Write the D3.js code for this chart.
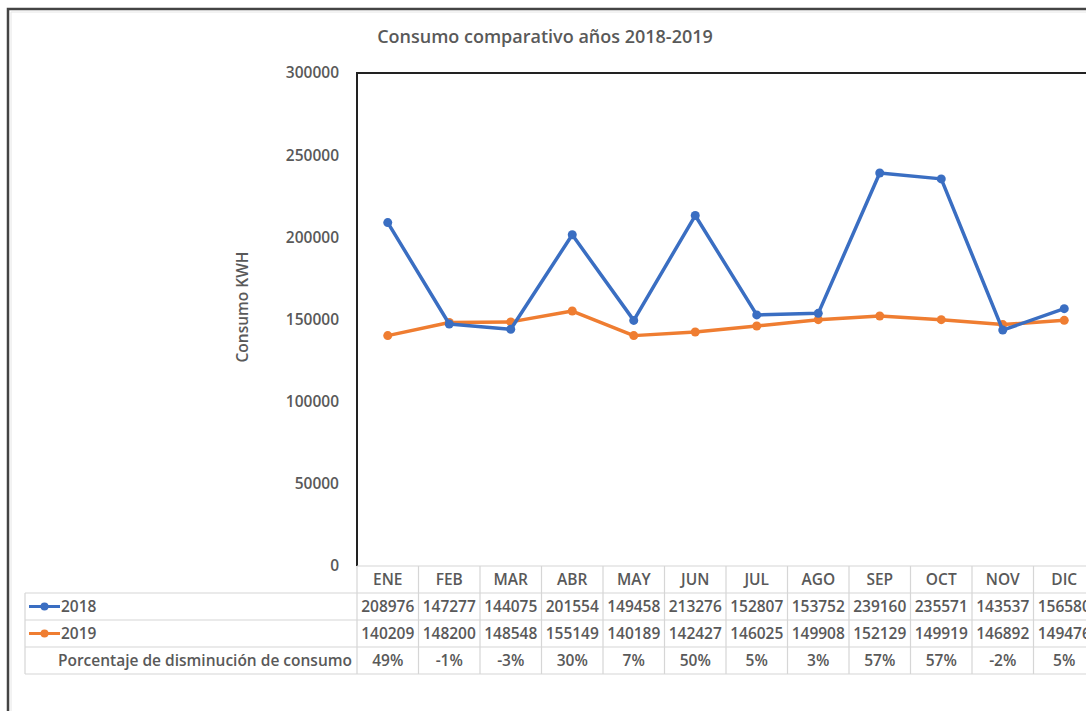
<!DOCTYPE html>
<html>
<head>
<meta charset="utf-8">
<script src="https://cdn.jsdelivr.net/npm/d3@7"></script>
<style>
  body { margin: 0; background: #fff; }
  svg { display: block; font-family: "Open Sans", sans-serif; }
  text { fill: #595959; font-weight: 600; }
</style>
</head>
<body>
<svg class="chart"></svg>
<script>
var months = ["ENE", "FEB", "MAR", "ABR", "MAY", "JUN", "JUL", "AGO", "SEP", "OCT", "NOV", "DIC"];
var values2018 = [208976, 147277, 144075, 201554, 149458, 213276, 152807, 153752, 239160, 235571, 143537, 156580];
var values2019 = [140209, 148200, 148548, 155149, 140189, 142427, 146025, 149908, 152129, 149919, 146892, 149476];
var percentLabels = ["49%", "-1%", "-3%", "30%", "7%", "50%", "5%", "3%", "57%", "57%", "-2%", "5%"];
var yTicks = [0, 50000, 100000, 150000, 200000, 250000, 300000];

var width = 1086, height = 711;
var plotLeft = 357, plotTop = 73, plotBottom = 566, colW = 61.5;
var rowH = 27, tableLeft = 25;

var colors = {"2018": "#3a6ec2", "2019": "#ef7d31"};

var svg = d3.select(".chart")
    .attr("width", width)
    .attr("height", height);

svg.append("rect").attr("width", width).attr("height", height).attr("fill", "#fff");

// outer frame
svg.append("path")
    .attr("d", "M8," + height + "V9H" + width)
    .attr("fill", "none")
    .attr("stroke", "#444")
    .attr("stroke-width", 2.5);
svg.append("path")
    .attr("d", "M11," + height + "V12H" + width)
    .attr("fill", "none")
    .attr("stroke", "#e6e6e6")
    .attr("stroke-width", 1);

var x = d3.scaleBand()
    .domain(months)
    .range([plotLeft, plotLeft + colW * months.length])
    .paddingInner(0);

var y = d3.scaleLinear()
    .domain([0, 300000])
    .range([plotBottom, plotTop]);

// title
svg.append("text")
    .attr("x", 545)
    .attr("y", 43)
    .attr("text-anchor", "middle")
    .style("font-size", "18px")
    .text("Consumo comparativo años 2018-2019");

// y axis labels
var yAxis = d3.axisLeft(y).tickValues(yTicks).tickSize(0).tickPadding(0).tickFormat(d3.format("d"));
var gy = svg.append("g")
    .attr("transform", "translate(339,0)")
    .call(yAxis);
gy.select(".domain").remove();
gy.selectAll("text")
    .attr("fill", "#595959")
    .style("font-family", "'Open Sans', sans-serif")
    .style("font-size", "15.5px")
    .style("font-weight", 600);

svg.append("text")
    .attr("transform", "translate(248,307) rotate(-90)")
    .attr("text-anchor", "middle")
    .style("font-size", "15.5px")
    .text("Consumo KWH");

// plot border (top and left dark)
svg.append("path")
    .attr("d", "M" + plotLeft + "," + plotBottom + "V" + plotTop + "H" + width)
    .attr("fill", "none")
    .attr("stroke", "#222")
    .attr("stroke-width", 2);

// table grid
var grid = svg.append("g").attr("stroke", "#d6d6d6").attr("stroke-width", 1.2);
var tableBottom = plotBottom + rowH * 4;
grid.append("line")
    .attr("x1", plotLeft).attr("x2", width)
    .attr("y1", plotBottom).attr("y2", plotBottom);
d3.range(1, 5).forEach(function(i) {
  grid.append("line")
      .attr("x1", tableLeft).attr("x2", width)
      .attr("y1", plotBottom + rowH * i).attr("y2", plotBottom + rowH * i);
});
grid.append("line")
    .attr("x1", tableLeft).attr("x2", tableLeft)
    .attr("y1", plotBottom + rowH).attr("y2", tableBottom);
months.forEach(function(m) {
  grid.append("line")
      .attr("x1", x(m)).attr("x2", x(m))
      .attr("y1", plotBottom).attr("y2", tableBottom);
});

// lines and markers
var series = [
  {name: "2018", values: values2018},
  {name: "2019", values: values2019}
];

var line = d3.line()
    .x(function(d, i) { return x(months[i]) + x.bandwidth() / 2; })
    .y(function(d) { return y(d); });

var sg = svg.selectAll(".series")
    .data(series.slice().reverse())
  .enter().append("g")
    .attr("class", "series");

sg.append("path")
    .attr("d", function(d) { return line(d.values); })
    .attr("fill", "none")
    .attr("stroke", function(d) { return colors[d.name]; })
    .attr("stroke-width", 3.5)
    .attr("stroke-linejoin", "round");

sg.selectAll("circle")
    .data(function(d) { return d.values.map(function(v) { return {v: v, name: d.name}; }); })
  .enter().append("circle")
    .attr("cx", function(d, i) { return x(months[i]) + x.bandwidth() / 2; })
    .attr("cy", function(d) { return y(d.v); })
    .attr("r", 4.5)
    .attr("fill", function(d) { return colors[d.name]; });

// table text
var rows = [
  {label: null, cells: months},
  {label: "2018", cells: values2018.map(String)},
  {label: "2019", cells: values2019.map(String)},
  {label: "Porcentaje de disminución de consumo", cells: percentLabels}
];

rows.forEach(function(r, ri) {
  var cy = plotBottom + rowH * ri + rowH / 2 + 5.5;
  r.cells.forEach(function(c, ci) {
    svg.append("text")
        .attr("x", x(months[ci]) + x.bandwidth() / 2)
        .attr("y", cy)
        .attr("text-anchor", "middle")
        .style("font-size", "15.5px")
        .text(c);
  });
  if (r.label && colors[r.label]) {
    var ly = plotBottom + rowH * ri + rowH / 2;
    svg.append("line")
        .attr("x1", 29).attr("x2", 60)
        .attr("y1", ly).attr("y2", ly)
        .attr("stroke", colors[r.label])
        .attr("stroke-width", 3);
    svg.append("circle")
        .attr("cx", 44.5).attr("cy", ly).attr("r", 4)
        .attr("fill", colors[r.label]);
    svg.append("text")
        .attr("x", 61).attr("y", cy)
        .style("font-size", "15.5px")
        .text(r.label);
  } else if (r.label) {
    svg.append("text")
        .attr("x", 352).attr("y", cy)
        .attr("text-anchor", "end")
        .style("font-size", "15.5px")
        .text(r.label);
  }
});
</script>
</body>
</html>
